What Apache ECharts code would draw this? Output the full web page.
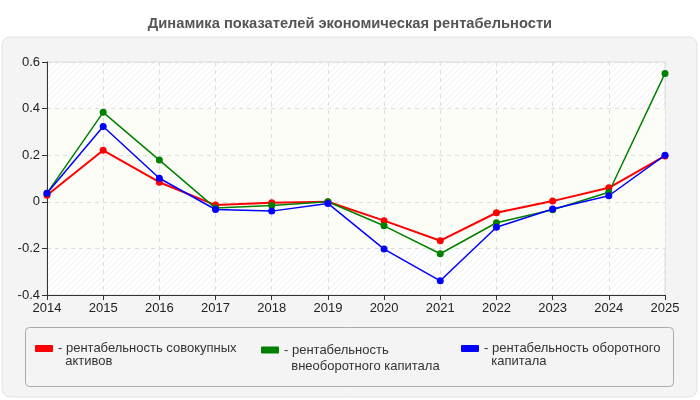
<!DOCTYPE html>
<html>
<head>
<meta charset="utf-8">
<script src="https://cdn.jsdelivr.net/npm/echarts@6/dist/echarts.min.js"></script>
<style>
  html, body { margin: 0; padding: 0; background: #fff; }
  #chart { width: 700px; height: 400px; }
</style>
</head>
<body>
<div id="chart"></div>
<script>
const years = ['2014', '2015', '2016', '2017', '2018', '2019', '2020', '2021', '2022', '2023', '2024', '2025'];
const totalAssets = [0.028, 0.221, 0.084, -0.014, -0.004, 0.0, -0.081, -0.167, -0.047, 0.003, 0.06, 0.197];
const fixedCapital = [0.037, 0.384, 0.179, -0.027, -0.016, 0.0, -0.103, -0.223, -0.09, -0.034, 0.041, 0.551];
const workingCapital = [0.037, 0.323, 0.101, -0.033, -0.04, -0.007, -0.203, -0.339, -0.109, -0.031, 0.026, 0.2];
const seriesNames = [
    'рентабельность совокупных активов',
    'рентабельность внеоборотного капитала',
    'рентабельность оборотного капитала'
];
const legendLabels = [
    '- рентабельность совокупных\n  активов',
    '- рентабельность\n  внеоборотного капитала',
    '- рентабельность оборотного\n  капитала'
];

document.addEventListener("DOMContentLoaded", function () {
    var chart = echarts.init(document.getElementById('chart'));

    // штриховка фона области графика
    var pat = document.createElement('canvas');
    pat.width = 6;
    pat.height = 6;
    var ctx = pat.getContext('2d');
    ctx.fillStyle = '#ffffff';
    ctx.fillRect(0, 0, 6, 6);
    ctx.strokeStyle = '#eeeeee';
    ctx.lineWidth = 1;
    ctx.beginPath();
    ctx.moveTo(0, 6);
    ctx.lineTo(6, 0);
    ctx.stroke();

    function lineSeries(name, data, color, width) {
        return {
            name: name,
            type: 'line',
            data: data,
            symbol: 'circle',
            symbolSize: 7,
            lineStyle: { color: color, width: width },
            itemStyle: { color: color },
            z: 3
        };
    }

    // значок легенды смещён к первой строке подписи
    function legendIcon(h) {
        return 'path://M1,0 L17,0 Q18,0 18,1 L18,6 Q18,7 17,7 L1,7 Q0,7 0,6 L0,1 Q0,0 1,0 Z M0,' + h + ' L18,' + h + ' L18,' + h + ' Z';
    }

    var legendX = [35, 261, 461];
    var lineH = [13, 16, 13];
    var legends = seriesNames.map(function (n, i) {
        var h = lineH[i] + 7;
        return {
            data: [n],
            left: legendX[i],
            top: 342,
            padding: 0,
            itemWidth: 18,
            itemHeight: h,
            itemGap: 4,
            icon: legendIcon(h),
            formatter: function () { return legendLabels[i]; },
            textStyle: { fontSize: 13, color: '#333', lineHeight: lineH[i], fontFamily: 'Liberation Sans' },
            selectedMode: false
        };
    });

    var option = {
        animation: false,
        textStyle: { fontFamily: 'Liberation Sans' },
        title: {
            text: 'Динамика показателей экономическая рентабельности',
            left: 'center',
            top: 11,
            textStyle: { fontSize: 14.7, fontWeight: 'bold', color: '#555', fontFamily: 'Liberation Sans' }
        },
        graphic: [
            {
                type: 'rect',
                z: -10,
                shape: { x: 2, y: 37, width: 695, height: 360, r: 8 },
                style: { fill: '#f4f4f4', stroke: '#e2e2e2', lineWidth: 1 }
            },
            {
                type: 'rect',
                z: -9,
                shape: { x: 25.5, y: 327.5, width: 648, height: 59, r: 4 },
                style: { fill: '#f4f4f4', stroke: '#aaaaaa', lineWidth: 1 }
            }
        ],
        legend: legends,
        grid: {
            left: 47,
            right: 35,
            top: 62,
            bottom: 105,
            show: true,
            backgroundColor: { image: pat, repeat: 'repeat' },
            borderColor: '#dddddd',
            borderWidth: 1
        },
        xAxis: {
            type: 'category',
            data: years,
            boundaryGap: false,
            axisLine: { onZero: false, lineStyle: { color: '#333', width: 1 } },
            axisTick: { alignWithLabel: true, length: 5, lineStyle: { color: '#333' } },
            axisLabel: { fontSize: 13, color: '#222', margin: 7 },
            splitLine: { show: true, lineStyle: { color: '#dddddd', type: [4, 4] } }
        },
        yAxis: {
            type: 'value',
            min: -0.4,
            max: 0.6,
            interval: 0.2,
            axisLine: { show: true, lineStyle: { color: '#333', width: 1 } },
            axisTick: { show: true, length: 5, lineStyle: { color: '#333' } },
            axisLabel: {
                fontSize: 13,
                color: '#222',
                margin: 7,
                formatter: function (v) { return parseFloat(v.toFixed(1)).toString(); }
            },
            splitLine: { show: true, lineStyle: { color: '#dddddd', type: [4, 4] } },
            // светлая полоса от -0.2 до 0.4
            splitArea: {
                show: true,
                areaStyle: { color: ['rgba(0,0,0,0)', '#fdfdf8', '#fdfdf8', '#fdfdf8', 'rgba(0,0,0,0)'] }
            }
        },
        series: [
            lineSeries(seriesNames[0], totalAssets, '#ff0000', 2),
            lineSeries(seriesNames[1], fixedCapital, '#008000', 1.5),
            lineSeries(seriesNames[2], workingCapital, '#0000ff', 1.5)
        ]
    };

    chart.setOption(option);
    window.addEventListener("resize", function () {
        chart.resize();
    });
});
</script>
</body>
</html>
